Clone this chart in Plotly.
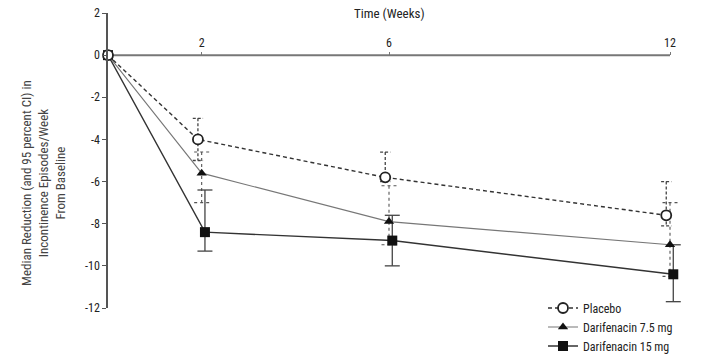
import plotly.graph_objects as go

weeks = [0, 2, 6, 12]
series_names = ["Placebo", "Darifenacin 7.5 mg", "Darifenacin 15 mg"]
placebo_med = [0, -4.0, -5.8, -7.6]
placebo_hi = [0, -3.0, -4.6, -6.0]
placebo_lo = [0, -5.0, -6.0, -8.1]
dar75_med = [0, -5.6, -7.9, -9.0]
dar75_hi = [0, -4.6, -6.2, -7.0]
dar75_lo = [0, -7.0, -9.0, -10.5]
dar15_med = [0, -8.4, -8.8, -10.4]
dar15_hi = [0, -6.4, -7.6, -9.0]
dar15_lo = [0, -9.3, -10.0, -11.7]
y_ticks = [2, 0, -2, -4, -6, -8, -10, -12]
x_ticks = [2, 6, 12]

FONT = "Liberation Sans Narrow, Roboto Condensed, Arial Narrow, Liberation Sans, sans-serif"

W, H = 714, 363
ML, MR, MT, MB = 108, 2, 13, 55
AXIS_PX = 562  # pixel length of the 0..12 week axis
X_MAX = (W - ML - MR) * weeks[-1] / AXIS_PX  # headroom so dodged marks past week 12 are not clipped

styles = [
    dict(med=placebo_med, hi=placebo_hi, lo=placebo_lo, dodge=-0.08,
         line=dict(color="#333333", width=1.4, dash="4px,3px"),
         marker=dict(symbol="circle", size=10, color="white", line=dict(width=1.8, color="#222222")),
         err=dict(color="#444444", width=1.3, dash="3px,2px"), cap=0.11),
    dict(med=dar75_med, hi=dar75_hi, lo=dar75_lo, dodge=0.0,
         line=dict(color="#777777", width=1.1),
         marker=dict(symbol="triangle-up", size=9, color="#111111"),
         err=dict(color="#555555", width=1.1, dash="dot"), cap=0.16),
    dict(med=dar15_med, hi=dar15_hi, lo=dar15_lo, dodge=0.07,
         line=dict(color="#333333", width=1.4),
         marker=dict(symbol="square", size=10, color="#111111"),
         err=dict(color="#444444", width=1.3), cap=0.16),
]

fig = go.Figure()

# error bars built from CI arrays
for s in styles:
    ex, ey = [], []
    for w, hi, lo in zip(weeks, s["hi"], s["lo"]):
        if w == 0:
            continue
        x = w + s["dodge"]
        ex += [x, x, None, x - s["cap"], x + s["cap"], None, x - s["cap"], x + s["cap"], None]
        ey += [hi, lo, None, hi, hi, None, lo, lo, None]
    fig.add_trace(go.Scatter(x=ex, y=ey, mode="lines", line=s["err"],
                             showlegend=False, hoverinfo="skip", cliponaxis=False))

# series lines, drawn so the placebo marker sits on top at week 0
for idx in [2, 1, 0]:
    s = styles[idx]
    xs = [w + (s["dodge"] if w > 0 else 0) for w in weeks]
    fig.add_trace(go.Scatter(x=xs, y=s["med"], mode="lines+markers", name=series_names[idx],
                             line=s["line"], marker=s["marker"], cliponaxis=False,
                             legendrank=idx + 1))

# horizontal time axis line at y = 0, spanning weeks 0..12
fig.add_shape(type="line", xref="x", yref="y", x0=weeks[0], x1=weeks[-1], y0=0, y1=0,
              line=dict(color="#777777", width=2), layer="below")

fig.update_layout(
    width=W, height=H,
    margin=dict(l=ML, r=MR, t=MT, b=MB),
    paper_bgcolor="white", plot_bgcolor="white",
    font=dict(family=FONT, size=12, color="#333333"),
    showlegend=True,
    legend=dict(x=(543 - ML) / (W - ML - MR), y=-0.178, xanchor="left", yanchor="bottom",
                bgcolor="rgba(0,0,0,0)", font=dict(size=12, color="#222222"),
                tracegroupgap=0, itemwidth=30, traceorder="normal"),
    xaxis=dict(range=[0, X_MAX], anchor="free", position=12 / 14, side="top",
               tickvals=x_ticks, ticktext=[str(t) for t in x_ticks],
               ticks="outside", ticklen=3, tickcolor="#777777",
               showline=False, automargin=False,
               showgrid=False, zeroline=False,
               tickfont=dict(size=12, color="#222222")),
    yaxis=dict(range=[-12, 2], tickvals=y_ticks, ticktext=[str(t) for t in y_ticks],
               ticks="outside", ticklen=4, tickcolor="#555555",
               showline=True, linecolor="#555555", linewidth=1.5, automargin=False,
               showgrid=False, zeroline=False,
               tickfont=dict(size=12, color="#222222")),
    annotations=[
        dict(text="Time (Weeks)", x=6 / X_MAX, xref="paper", y=1.0, yref="paper",
             showarrow=False, font=dict(size=13, color="#222222"),
             yanchor="middle"),
        dict(text="Median Reduction (and 95 percent CI) in<br>Incontinence Episodes/Week<br>From Baseline",
             x=-64 / (W - ML - MR), xref="paper", y=0.424, yref="paper", textangle=-90,
             showarrow=False, font=dict(size=13, color="#444444"), align="center",
             xanchor="center", yanchor="middle"),
    ],
)

fig.write_html("out.html", config={"displayModeBar": False},
               post_script="document.body.style.margin='0px';")
